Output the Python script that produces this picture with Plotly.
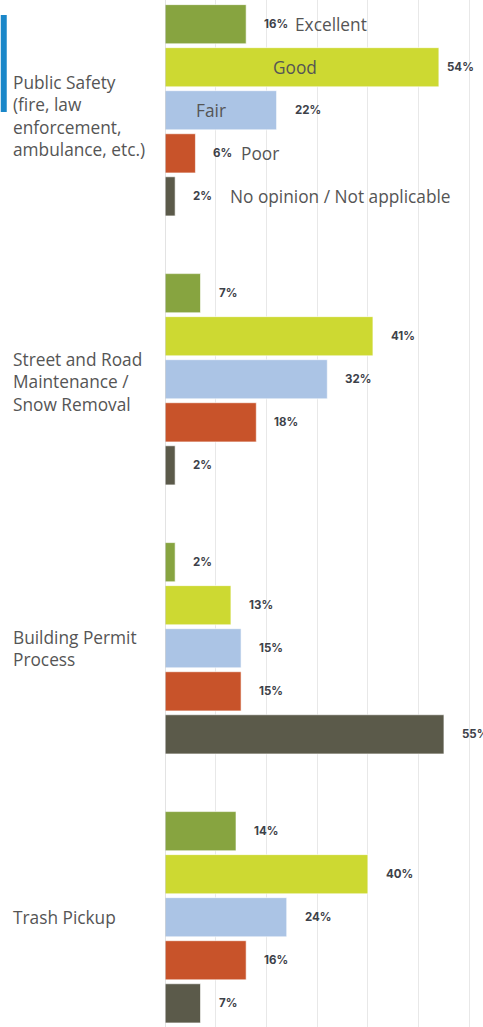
import plotly.graph_objects as go

# survey data
categories = [
    "Public Safety<br>(fire, law<br>enforcement,<br>ambulance, etc.)",
    "Street and Road<br>Maintenance /<br>Snow Removal",
    "Building Permit<br>Process",
    "Trash Pickup",
]
ratings = ["Excellent", "Good", "Fair", "Poor", "No opinion / Not applicable"]
excellent = [16, 7, 2, 14]
good = [54, 41, 13, 40]
fair = [22, 32, 15, 24]
poor = [6, 18, 15, 16]
no_opinion = [2, 2, 55, 7]
colors = ["#87a440", "#cdd932", "#abc4e5", "#c8532a", "#5b5a4a"]

series = [excellent, good, fair, poor, no_opinion]
cat_ids = list(range(len(categories)))

fig = go.Figure()
for name, vals, col in zip(ratings, series, colors):
    fig.add_trace(go.Bar(
        y=cat_ids, x=vals, name=name, orientation="h",
        marker=dict(color=col, line=dict(color="rgba(255,255,255,0.6)", width=1)),
        hoverinfo="x+name",
    ))

fig.update_layout(
    width=483, height=1027,
    margin=dict(l=164.5, r=0, t=0, b=0),
    barmode="group", bargap=0.2, bargroupgap=0.09,
    plot_bgcolor="white", paper_bgcolor="white",
    showlegend=False,
    font=dict(family="Open Sans", color="#555555"),
)
fig.update_xaxes(range=[0, 62.7], dtick=10, showgrid=True, gridcolor="#e8e8e8",
                 gridwidth=1, showticklabels=False, zeroline=False,
                 showline=False, ticks="")
fig.update_yaxes(range=[3.408, -0.41], showticklabels=False, showgrid=False,
                 zeroline=False, showline=False, ticks="")

# axis line at zero
fig.add_shape(type="line", xref="x", yref="paper", x0=0, x1=0, y0=0, y1=1,
              line=dict(color="#c8c8c8", width=1))

# blue accent
fig.add_shape(type="rect", xref="paper", yref="paper",
              x0=-164.5 / 318.5, x1=-158.5 / 318.5,
              y0=1 - 112 / 1027, y1=1 - 15 / 1027,
              fillcolor="#1a87c9", line_width=0)

# category labels
label_yshift = [-6, -3, 0, 0]
for i, c in enumerate(categories):
    fig.add_annotation(x=0, xref="paper", xanchor="left", xshift=-154.5,
                       y=i, yref="y", yanchor="middle", yshift=label_yshift[i],
                       text=c, align="left", showarrow=False,
                       font=dict(family="Open Sans", size=17.3, color="#555555"))

# value labels
offsets = [-0.32, -0.16, 0, 0.16, 0.32]
nudge = {(0, 1): -10}
for k, vals in enumerate(series):
    for i, v in enumerate(vals):
        fig.add_annotation(x=v, y=i + offsets[k], xref="x", yref="y",
                           xanchor="left", yanchor="middle",
                           xshift=16 + nudge.get((i, k), 0),
                           text=f"<b>{v}%</b>", showarrow=False,
                           font=dict(family="Inter", size=11.5, color="#3d4149"))

# inline legend in first group
legend_pos = [(excellent[0], "left", 47), (good[0] / 2, "center", -7),
              (fair[0] / 2, "center", -10), (poor[0], "left", 44),
              (no_opinion[0], "left", 53)]
for k, (xv, anchor, shift) in enumerate(legend_pos):
    fig.add_annotation(x=xv, y=offsets[k], xref="x", yref="y",
                       xanchor=anchor, yanchor="middle", xshift=shift,
                       text=ratings[k], showarrow=False,
                       font=dict(family="Open Sans", size=17.3, color="#555555"))

fig.write_html("out.html", config={"displayModeBar": False},
               post_script="document.body.style.margin='0px';")
